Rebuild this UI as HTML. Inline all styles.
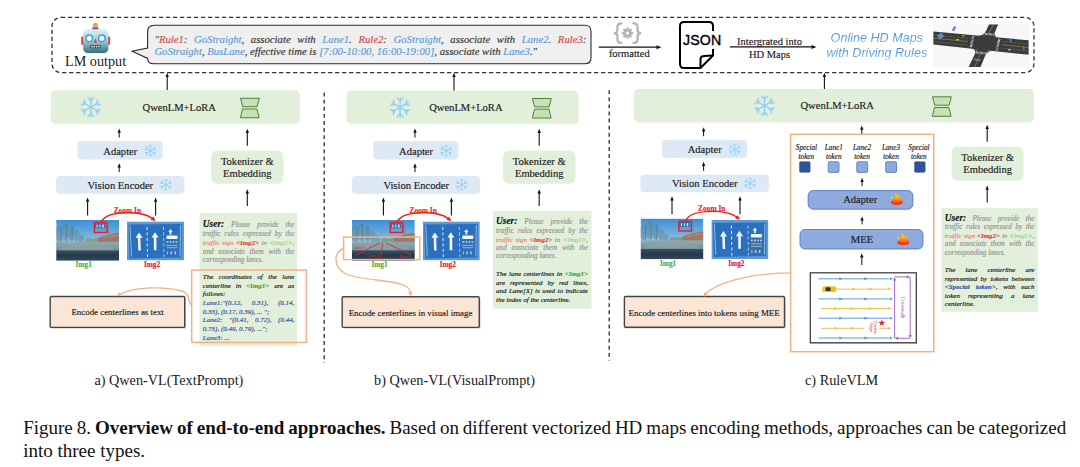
<!DOCTYPE html>
<html><head><meta charset="utf-8">
<style>
*{margin:0;padding:0;box-sizing:border-box}
html,body{width:1080px;height:467px;background:#fff;overflow:hidden}
body{position:relative;font-family:"Liberation Serif",serif;color:#1a1a1a}
svg.bg{position:absolute;left:0;top:0}
.t{position:absolute;white-space:nowrap;line-height:1}
.sm{-webkit-text-stroke:0.15px currentColor}
.jf{display:flex;justify-content:space-between;align-items:baseline}
.jf>span{white-space:nowrap}
.ser{font-family:"Liberation Serif",serif}
.sans{font-family:"Liberation Sans",sans-serif}
i{font-style:italic}
</style></head><body>
<svg class="bg" width="1080" height="467" viewBox="0 0 1080 467">
<defs>
 <symbol id="snow" viewBox="-10 -10 20 20" overflow="visible">
  <g stroke="#92cff5" stroke-width="1.35" stroke-linecap="round" stroke-linejoin="round" fill="none">
   <g id="arm"><line x1="0" y1="0" x2="0" y2="-9.6"/><polyline points="-3,-9.4 0,-6.4 3,-9.4"/></g>
   <use href="#arm" transform="rotate(60)"/><use href="#arm" transform="rotate(120)"/><use href="#arm" transform="rotate(180)"/><use href="#arm" transform="rotate(240)"/><use href="#arm" transform="rotate(300)"/>
  </g>
 </symbol>
 <symbol id="lora" viewBox="0 0 20 21" overflow="visible">
  <g fill="#c5e2b4" stroke="#4e7f3a" stroke-width="1" stroke-linejoin="round">
   <path d="M0.4,0.6 L19.4,0.6 L17.2,9.1 L2.6,9.1 Z"/>
   <path d="M2.4,11.4 L17,11.4 L19.2,20.3 L0.3,20.3 Z"/>
  </g>
 </symbol>
 <linearGradient id="fireg" x1="0" y1="0" x2="0" y2="1"><stop offset="0" stop-color="#ffd60a"/><stop offset="0.45" stop-color="#ffb000"/><stop offset="0.75" stop-color="#ff6a10"/><stop offset="1" stop-color="#f02a14"/></linearGradient>
 <symbol id="fire" viewBox="0 0 12 12" overflow="visible">
  <ellipse cx="6.1" cy="9.1" rx="5.8" ry="2.5" fill="#f2361a"/>
  <path d="M1.8,9.2 C1.4,6.8 3.2,5.6 4.2,4 C4.9,2.8 4.5,1 4.7,0 C6.6,1.3 7.4,3 7.6,4.4 C8.4,4 8.8,3.4 8.9,2.8 C10.6,4.4 11.2,6.6 10.4,9.2 C9.2,10.6 3,10.6 1.8,9.2 Z" fill="url(#fireg)"/>
  <ellipse cx="1.4" cy="4.6" rx="0.9" ry="1.2" fill="#ffd020"/>
 </symbol>
 <linearGradient id="robg" x1="0" y1="0" x2="0" y2="1"><stop offset="0" stop-color="#dcf0f2"/><stop offset="0.45" stop-color="#a9d3d8"/><stop offset="1" stop-color="#2f6f7f"/></linearGradient>
 <linearGradient id="skyg" x1="0" y1="0" x2="0" y2="1"><stop offset="0" stop-color="#3d8ed4"/><stop offset="0.55" stop-color="#8fc0de"/><stop offset="1" stop-color="#b9d3dc"/></linearGradient>
 <linearGradient id="roadg" x1="0" y1="0" x2="0" y2="1"><stop offset="0" stop-color="#90aab0"/><stop offset="1" stop-color="#6f9096"/></linearGradient>
 <linearGradient id="dashg" x1="0" y1="0" x2="0" y2="1"><stop offset="0" stop-color="#3c5266"/><stop offset="0.5" stop-color="#26384a"/><stop offset="1" stop-color="#34495c"/></linearGradient>
 <linearGradient id="hdg" x1="0" y1="0" x2="0" y2="1"><stop offset="0" stop-color="#4a8fd6"/><stop offset="0.6" stop-color="#6aa6de"/><stop offset="1" stop-color="#b8d6f0"/></linearGradient>
 <symbol id="img1" viewBox="0 0 63 41" preserveAspectRatio="none">
  <rect x="0" y="0" width="63" height="41" fill="url(#skyg)"/>
  <g fill="#5a8690" opacity="0.45"><ellipse cx="3" cy="14" rx="4" ry="8"/><ellipse cx="9" cy="12" rx="3.5" ry="9"/><ellipse cx="15" cy="13" rx="3.5" ry="8"/><ellipse cx="20.5" cy="16" rx="3" ry="6"/><ellipse cx="25" cy="19" rx="3" ry="4"/></g>
  <g stroke="#3f5f66" stroke-width="0.5" opacity="0.7"><line x1="5" y1="6" x2="5" y2="24"/><line x1="10.5" y1="4" x2="10.5" y2="24"/><line x1="16" y1="6" x2="16" y2="24"/></g>
  <g fill="#7a9a78" opacity="0.8"><ellipse cx="33" cy="21" rx="4" ry="2.5"/><ellipse cx="40" cy="20.5" rx="3" ry="2"/></g>
  <path d="M42,18 L48,16 L54,14.5 L60,13 L63,13 L63,23 L42,23 Z" fill="#a56a52" opacity="0.85"/>
  <path d="M47,17 L63,14.5 L63,16 L47,18.5 Z" fill="#c99070" opacity="0.7"/>
  <line x1="52.5" y1="6" x2="52.5" y2="23" stroke="#6f7f86" stroke-width="0.6"/>
  <rect x="0" y="22" width="63" height="9" fill="url(#roadg)"/>
  <path d="M22,22 L40,22 L63,31 L0,31 Z" fill="#8fa5a8" opacity="0.6"/>
  <rect x="0" y="30.5" width="63" height="10.5" fill="url(#dashg)"/>
  <rect x="38.8" y="3.4" width="10.4" height="6.6" fill="#2d6cb8"/>
  <g fill="#e8f0f8"><rect x="40.5" y="4.6" width="1" height="3"/><rect x="43.5" y="4.6" width="1" height="3"/><rect x="46.3" y="4.6" width="1.4" height="3"/></g>
  <rect x="38.8" y="8.6" width="10.4" height="1.2" fill="#7fb0e0"/>
 </symbol>
 <symbol id="img2" viewBox="0 0 57 39" preserveAspectRatio="none">
  <rect x="0" y="0" width="57" height="39" fill="#5e9ad4"/>
  <path d="M1.5,3 L55,2.5 L54.5,36 L2.5,37 Z" fill="#2b6fbf"/>
  <path d="M3,4 L4.5,35" stroke="#a9c8e8" stroke-width="0.8"/>
  <path d="M53.5,3.5 L53,35" stroke="#a9c8e8" stroke-width="0.8"/>
  <g fill="#f2f6fa">
   <path d="M12,11 L15.6,16.4 L13.4,16.4 L13.8,29 L11.2,29 L10.9,16.4 L8.6,16.4 Z"/>
   <path d="M28,10.8 L31.6,16.2 L29.4,16.2 L29.5,28.8 L26.9,28.8 L26.8,16.2 L24.6,16.2 Z"/>
   <path d="M43.5,7.5 L45.7,10.5 L44.4,10.5 L44.4,13 L42.6,13 L42.6,10.5 L41.3,10.5 Z"/>
   <rect x="39.5" y="14" width="11" height="3.6" rx="0.6"/>
  </g>
  <g fill="#e8eef5"><rect x="19.5" y="5.5" width="1" height="3"/><rect x="19.6" y="11" width="1" height="3"/><rect x="19.7" y="16.5" width="1" height="3"/><rect x="19.8" y="22" width="1" height="3"/><rect x="19.9" y="27.5" width="1" height="3"/><rect x="20" y="33" width="1" height="2.5"/></g>
  <g fill="#d8c89a"><rect x="36" y="5.5" width="1" height="3"/><rect x="36.1" y="11" width="1" height="3"/><rect x="36.2" y="16.5" width="1" height="3"/><rect x="36.3" y="22" width="1" height="3"/><rect x="36.4" y="27.5" width="1" height="3"/><rect x="36.5" y="33" width="1" height="2.5"/></g>
  <g fill="#e0cfa0" opacity="0.9"><circle cx="40.5" cy="20.5" r="1"/><circle cx="43.5" cy="20.5" r="1"/><circle cx="46.5" cy="20.5" r="1"/><circle cx="49.5" cy="20.5" r="1"/>
   <rect x="39.5" y="23.5" width="11" height="0.8"/><rect x="39.5" y="26" width="11" height="0.8"/>
   <rect x="40" y="30" width="1" height="3"/><rect x="43.5" y="30" width="1.5" height="3"/><rect x="47.5" y="30" width="1.5" height="3"/></g>
 </symbol>
</defs>
<rect x="52" y="17.4" width="982" height="55.2" rx="9" fill="none" stroke="#333" stroke-width="1.3" stroke-dasharray="4.2 2.8"/>
<g>
 <rect x="81.2" y="36.6" width="2.6" height="8.2" rx="1" fill="#d5453e"/>
 <rect x="107.6" y="36.6" width="2.6" height="8.2" rx="1" fill="#d5453e"/>
 <path d="M92.2,27.6 Q95.4,26.2 98.6,27.6 L98.2,30 L92.6,30 Z" fill="#6b4a9a"/>
 <circle cx="95.4" cy="25.2" r="2.5" fill="#f5a623"/>
 <rect x="83.2" y="29.2" width="25.2" height="23.9" rx="4.5" fill="url(#robg)"/>
 <circle cx="89.2" cy="38.2" r="3.3" fill="#fff" stroke="#2aa6e2" stroke-width="1.5"/>
 <circle cx="101.8" cy="38.2" r="3.3" fill="#fff" stroke="#2aa6e2" stroke-width="1.5"/>
 <path d="M95.4,38.2 L97.2,42.8 L93.6,42.8 Z" fill="#d94040"/>
 <rect x="90" y="45.2" width="10.8" height="3" rx="1.2" fill="#2a3a44"/>
 <g fill="#e8e8e8"><rect x="91" y="45.9" width="1.6" height="1.6"/><rect x="93.4" y="45.9" width="1.6" height="1.6"/><rect x="95.8" y="45.9" width="1.6" height="1.6"/><rect x="98.2" y="45.9" width="1.6" height="1.6"/></g>
</g>
<path d="M154.2,25.3 L585,25.3 Q591,25.3 591,31.3 L591,57.8 Q591,63.8 585,63.8 L154.2,63.8 Q147.6,63.8 147.6,58.4 L132.2,51.3 L147.6,48 L147.6,31.9 Q147.6,25.3 154.2,25.3 Z" fill="#efefef" stroke="#2a2a2a" stroke-width="1.1" stroke-linejoin="miter"/>
<g fill="none" stroke="#b4b4b4" stroke-width="2.2" stroke-linecap="round" stroke-linejoin="round">
 <path d="M621.6,23.4 Q617.4,23.4 617.4,27 L617.4,30.2 Q617.4,32.6 614.6,33.1 Q617.4,33.6 617.4,36 L617.4,39.4 Q617.4,42.8 621.6,42.8"/>
 <path d="M633.4,23.4 Q637.6,23.4 637.6,27 L637.6,30.2 Q637.6,32.6 640.4,33.1 Q637.6,33.6 637.6,36 L637.6,39.4 Q637.6,42.8 633.4,42.8"/>
</g>
<g fill="#b4b4b4"><circle cx="627.5" cy="33.1" r="4"/><rect x="626.3" y="27.5" width="2.4" height="3" transform="rotate(0 627.5 33.1)"/><rect x="626.3" y="27.5" width="2.4" height="3" transform="rotate(45 627.5 33.1)"/><rect x="626.3" y="27.5" width="2.4" height="3" transform="rotate(90 627.5 33.1)"/><rect x="626.3" y="27.5" width="2.4" height="3" transform="rotate(135 627.5 33.1)"/><rect x="626.3" y="27.5" width="2.4" height="3" transform="rotate(180 627.5 33.1)"/><rect x="626.3" y="27.5" width="2.4" height="3" transform="rotate(225 627.5 33.1)"/><rect x="626.3" y="27.5" width="2.4" height="3" transform="rotate(270 627.5 33.1)"/><rect x="626.3" y="27.5" width="2.4" height="3" transform="rotate(315 627.5 33.1)"/><circle cx="627.5" cy="33.1" r="1.7" fill="#fff"/></g>
<line x1="598.80" y1="47.20" x2="657.00" y2="47.20" stroke="#111" stroke-width="1.2"/>
<polygon points="661.50,47.20 656.50,49.20 656.50,45.20" fill="#111"/>
<path d="M713,31 L713,26 Q713,22 709,22 L684,22 Q680,22 680,26 L680,64 Q680,68 684,68 L700.5,68 L713,55.5 L713,49" fill="none" stroke="#000" stroke-width="2" stroke-linejoin="round"/>
<path d="M700.5,68 L700.5,59.5 Q700.5,56 704,56 L713,55.5" fill="none" stroke="#000" stroke-width="2" stroke-linejoin="round"/>
<line x1="730.00" y1="46.90" x2="812.00" y2="46.90" stroke="#111" stroke-width="1.2"/>
<polygon points="816.50,46.90 811.50,48.90 811.50,44.90" fill="#111"/>
<g>
 <rect x="933" y="24" width="96" height="43.5" fill="#f7f7f7"/>
 <path d="M933.4,31.6 L1028.6,40.3 L1028.6,54.8 L933.4,44.6 Z" fill="#3b3b3b"/>
 <path d="M989,24.5 L998.1,24.5 L980.5,67.1 L968.7,67.1 Z" fill="#3b3b3b"/>
 <g fill="#3b3b3b">
  <path d="M977.4,35.62 Q983.4,36.17 986,30.75 L983.4,36.17 Z"/>
  <path d="M998.9,37.59 Q992.9,37.04 995.2,31.5 L992.9,37.04 Z"/>
  <path d="M971.2,48.65 Q977.2,49.29 974.6,54.7 L977.2,49.29 Z"/>
  <path d="M993.4,51.02 Q987.4,50.38 985.1,55.9 L987.4,50.38 Z"/>
 </g>
 <g stroke="#8a8a8a" stroke-width="0.4" opacity="0.8"><line x1="933.4" y1="35" x2="968" y2="38.3"/><line x1="933.4" y1="41.5" x2="968" y2="45"/><line x1="1002" y1="41.5" x2="1028.6" y2="44.3"/><line x1="1002" y1="48" x2="1028.6" y2="51"/></g>
 <g stroke="#c9a92a" stroke-width="0.5"><line x1="933.4" y1="38.1" x2="968" y2="41.5"/><line x1="1002" y1="44.7" x2="1028.6" y2="47.5"/><line x1="993.5" y1="24.5" x2="988.6" y2="33.5"/><line x1="980.2" y1="54" x2="974.6" y2="67.1"/></g>
 <g stroke="#e6e6e6" stroke-width="2.2" stroke-dasharray="0.6 0.7"><line x1="985" y1="33.9" x2="994.2" y2="34.5"/><line x1="976" y1="52.4" x2="986.2" y2="53.4"/></g>
 <g stroke="#e6e6e6" stroke-width="2.4" stroke-dasharray="0.6 0.7"><line x1="973.3" y1="36.2" x2="970.7" y2="47.6"/><line x1="999.3" y1="38.8" x2="996.7" y2="50.4"/></g>
 <g fill="#d9a53a"><rect x="956" y="39" width="3" height="1.4"/><rect x="1008" y="49" width="3" height="1.4"/><rect x="962" y="35.2" width="2.4" height="1.2"/></g>
 <rect x="1023" y="46" width="1.5" height="4" fill="#d04a4a"/>
 <path d="M937,35.5 L941.5,32.5 L944,36.6 L939.6,39.4 Z" fill="#5b86d4"/>
 <path d="M951.8,30.2 L954.2,26 L956.2,27.2 L953.9,31.4 Z" fill="#5b86d4"/>
 <path d="M974.6,58.6 L980.6,59.6 L980.2,61.2 L974.2,60.2 Z" fill="#5b86d4"/>
 <path d="M1009.6,38.6 L1011,38 L1011.6,41.6 L1010.2,42.2 Z" fill="#5b86d4"/>
</g>
<line x1="324.2" y1="92.6" x2="324.2" y2="363" stroke="#3a3a3a" stroke-width="1.4" stroke-dasharray="3.9 3.2"/>
<line x1="609.2" y1="90.2" x2="609.2" y2="360.5" stroke="#3a3a3a" stroke-width="1.4" stroke-dasharray="3.9 3.2"/>
<rect x="50.8" y="90" width="249.2" height="34.3" rx="5" fill="#e2efda"/>
<use href="#snow" x="81" y="97.25" width="19.8" height="19.8"/>
<use href="#lora" x="240" y="97.65" width="20" height="20.8"/>
<line x1="167.20" y1="90.00" x2="167.20" y2="76.50" stroke="#111" stroke-width="1.1"/>
<polygon points="167.20,72.80 168.90,77.00 165.50,77.00" fill="#111"/>
<rect x="77.4" y="141.1" width="85.3" height="18.4" rx="4" fill="#dde9f5"/>
<use href="#snow" x="144.6" y="145.1" width="11.6" height="11.6"/>
<rect x="56" y="175.9" width="128.4" height="17.8" rx="4" fill="#dde9f5"/>
<use href="#snow" x="160" y="179" width="11.6" height="11.6"/>
<line x1="119.20" y1="137.60" x2="119.20" y2="132.30" stroke="#111" stroke-width="1"/>
<polygon points="119.20,128.60 120.90,132.80 117.50,132.80" fill="#111"/>
<line x1="119.20" y1="172.20" x2="119.20" y2="166.90" stroke="#111" stroke-width="1"/>
<polygon points="119.20,163.20 120.90,167.40 117.50,167.40" fill="#111"/>
<line x1="87.60" y1="215.60" x2="87.60" y2="201.30" stroke="#111" stroke-width="1.1"/>
<polygon points="87.60,197.60 89.30,201.80 85.90,201.80" fill="#111"/>
<line x1="155.60" y1="215.60" x2="155.60" y2="201.30" stroke="#111" stroke-width="1.1"/>
<polygon points="155.60,197.60 157.30,201.80 153.90,201.80" fill="#111"/>
<use href="#img1" x="56.2" y="220" width="62.8" height="40.7"/>
<use href="#img2" x="127" y="221.4" width="57" height="39"/>
<rect x="94.4" y="222.6" width="12.6" height="9.8" fill="none" stroke="#e32020" stroke-width="1.4"/>
<path d="M101.1,222.4 C104,215 115,212.8 128.3,212.8 C140,212.8 148.5,215.5 152.6,218.6" fill="none" stroke="#ee1c1c" stroke-width="1.4"/>
<polygon points="155.4,221.2 150.6,219.8 153.6,216.4" fill="#ee1c1c"/>
<rect x="211.2" y="150.6" width="72.19999999999999" height="33.20000000000002" rx="6" fill="#e2efda"/>
<line x1="247.30" y1="145.80" x2="247.30" y2="132.50" stroke="#111" stroke-width="1.1"/>
<polygon points="247.30,128.80 249.00,133.00 245.60,133.00" fill="#111"/>
<line x1="247.30" y1="206.00" x2="247.30" y2="193.00" stroke="#111" stroke-width="1.1"/>
<polygon points="247.30,189.30 249.00,193.50 245.60,193.50" fill="#111"/>
<rect x="199.5" y="213" width="97.5" height="133" fill="#e2efda"/>
<rect x="191.7" y="270.1" width="114.6" height="72.3" fill="none" stroke="#f4b183" stroke-width="1.5"/>
<rect x="51.400000000000006" y="297.7" width="134.5" height="30.899999999999977" fill="#9a9a9a" opacity="0.5"/>
<rect x="50.2" y="296.5" width="134.5" height="30.899999999999977" rx="1.2" fill="#fbe5d6" stroke="#444" stroke-width="1.4"/>
<path d="M191.7,306 C188,302 190,293 182,291 C165,286.5 135,286 119.5,294.5" fill="none" stroke="#f4b183" stroke-width="1.3"/>
<polygon points="117.6,296.6 118.4,292.2 121.8,294.6" fill="#f4b183"/>
<rect x="346.4" y="90.5" width="232.20000000000005" height="33.8" rx="5" fill="#e2efda"/>
<use href="#snow" x="390.2" y="97.50" width="19.8" height="19.8"/>
<use href="#lora" x="532" y="97.90" width="20" height="20.8"/>
<line x1="454.00" y1="90.50" x2="454.00" y2="76.50" stroke="#111" stroke-width="1.1"/>
<polygon points="454.00,72.80 455.70,77.00 452.30,77.00" fill="#111"/>
<rect x="373.20000000000005" y="141.1" width="85.3" height="18.4" rx="4" fill="#dde9f5"/>
<use href="#snow" x="440.4" y="145.1" width="11.6" height="11.6"/>
<rect x="351.8" y="175.9" width="128.4" height="17.8" rx="4" fill="#dde9f5"/>
<use href="#snow" x="455.8" y="179" width="11.6" height="11.6"/>
<line x1="415.00" y1="137.60" x2="415.00" y2="132.30" stroke="#111" stroke-width="1"/>
<polygon points="415.00,128.60 416.70,132.80 413.30,132.80" fill="#111"/>
<line x1="415.00" y1="172.20" x2="415.00" y2="166.90" stroke="#111" stroke-width="1"/>
<polygon points="415.00,163.20 416.70,167.40 413.30,167.40" fill="#111"/>
<line x1="383.40" y1="215.60" x2="383.40" y2="201.30" stroke="#111" stroke-width="1.1"/>
<polygon points="383.40,197.60 385.10,201.80 381.70,201.80" fill="#111"/>
<line x1="451.40" y1="215.60" x2="451.40" y2="201.30" stroke="#111" stroke-width="1.1"/>
<polygon points="451.40,197.60 453.10,201.80 449.70,201.80" fill="#111"/>
<use href="#img1" x="352.0" y="220" width="62.8" height="40.7"/>
<use href="#img2" x="422.8" y="221.4" width="57" height="39"/>
<rect x="390.20000000000005" y="222.6" width="12.6" height="9.8" fill="none" stroke="#e32020" stroke-width="1.4"/>
<path d="M396.9,222.4 C399.8,215 410.8,212.8 424.1,212.8 C435.8,212.8 444.3,215.5 448.4,218.6" fill="none" stroke="#ee1c1c" stroke-width="1.4"/>
<polygon points="451.20000000000005,221.2 446.4,219.8 449.4,216.4" fill="#ee1c1c"/>
<rect x="503.1" y="150.6" width="72.29999999999995" height="33.20000000000002" rx="6" fill="#e2efda"/>
<line x1="539.20" y1="145.80" x2="539.20" y2="132.50" stroke="#111" stroke-width="1.1"/>
<polygon points="539.20,128.80 540.90,133.00 537.50,133.00" fill="#111"/>
<line x1="539.20" y1="206.00" x2="539.20" y2="193.00" stroke="#111" stroke-width="1.1"/>
<polygon points="539.20,189.30 540.90,193.50 537.50,193.50" fill="#111"/>
<rect x="492.8" y="210.9" width="98.7" height="97.8" fill="#e2efda"/>
<g stroke="#e82020" stroke-width="0.85" fill="none"><line x1="380.3" y1="242.6" x2="355.2" y2="255.4"/><line x1="382.8" y1="243" x2="380.7" y2="257.2"/><line x1="386" y1="243" x2="410.7" y2="254.6"/></g>
<g fill="#e82020" font-family="Liberation Serif" font-size="4.3"><text x="355" y="249.3">Lane1</text><text x="368.4" y="257.2">Lane2</text><text x="399.4" y="257.5">Lane3</text></g>
<rect x="343.6" y="237.1" width="76.2" height="22.5" fill="none" stroke="#f4b183" stroke-width="1.5"/>
<rect x="343.4" y="298.0" width="137.10000000000002" height="30.599999999999966" fill="#9a9a9a" opacity="0.5"/>
<rect x="342.2" y="296.8" width="137.10000000000002" height="30.599999999999966" rx="1.2" fill="#fbe5d6" stroke="#444" stroke-width="1.4"/>
<path d="M343.4,248.6 C334,252 332.5,266 345,273.5 C362,281 392,279.5 405,285.5 C409,288 410.4,290.5 410.6,293" fill="none" stroke="#f4b183" stroke-width="1.3"/>
<polygon points="410.4,296.4 408.2,292.2 412.6,292.2" fill="#f4b183"/>
<rect x="633.7" y="89" width="400.29999999999995" height="33.400000000000006" rx="5" fill="#e2efda"/>
<use href="#snow" x="754.6" y="95.80" width="19.8" height="19.8"/>
<use href="#lora" x="932" y="96.20" width="20" height="20.8"/>
<line x1="824.40" y1="89.00" x2="824.40" y2="76.50" stroke="#111" stroke-width="1.1"/>
<polygon points="824.40,72.80 826.10,77.00 822.70,77.00" fill="#111"/>
<rect x="661.8" y="139.7" width="85.3" height="18.4" rx="4" fill="#dde9f5"/>
<use href="#snow" x="729.0" y="143.7" width="11.6" height="11.6"/>
<rect x="640.4" y="174.5" width="128.4" height="17.8" rx="4" fill="#dde9f5"/>
<use href="#snow" x="744.4" y="177.6" width="11.6" height="11.6"/>
<line x1="703.60" y1="136.20" x2="703.60" y2="130.90" stroke="#111" stroke-width="1"/>
<polygon points="703.60,127.20 705.30,131.40 701.90,131.40" fill="#111"/>
<line x1="703.60" y1="170.80" x2="703.60" y2="165.50" stroke="#111" stroke-width="1"/>
<polygon points="703.60,161.80 705.30,166.00 701.90,166.00" fill="#111"/>
<line x1="672.00" y1="214.20" x2="672.00" y2="199.90" stroke="#111" stroke-width="1.1"/>
<polygon points="672.00,196.20 673.70,200.40 670.30,200.40" fill="#111"/>
<line x1="740.00" y1="214.20" x2="740.00" y2="199.90" stroke="#111" stroke-width="1.1"/>
<polygon points="740.00,196.20 741.70,200.40 738.30,200.40" fill="#111"/>
<use href="#img1" x="640.6" y="218.6" width="62.8" height="40.7"/>
<use href="#img2" x="711.4" y="220.0" width="57" height="39"/>
<rect x="678.8" y="221.2" width="12.6" height="9.8" fill="none" stroke="#e32020" stroke-width="1.4"/>
<path d="M685.5,221.0 C688.4,213.6 699.4,211.4 712.7,211.4 C724.4,211.4 732.9,214.1 737.0,217.2" fill="none" stroke="#ee1c1c" stroke-width="1.4"/>
<polygon points="739.8,219.79999999999998 735.0,218.4 738.0,215.0" fill="#ee1c1c"/>
<rect x="951.7" y="146.7" width="71.89999999999998" height="34.0" rx="6" fill="#e2efda"/>
<line x1="987.20" y1="141.80" x2="987.20" y2="128.50" stroke="#111" stroke-width="1.1"/>
<polygon points="987.20,124.80 988.90,129.00 985.50,129.00" fill="#111"/>
<line x1="987.20" y1="202.60" x2="987.20" y2="189.30" stroke="#111" stroke-width="1.1"/>
<polygon points="987.20,185.60 988.90,189.80 985.50,189.80" fill="#111"/>
<line x1="861.80" y1="134.30" x2="861.80" y2="129.30" stroke="#111" stroke-width="1"/>
<polygon points="861.80,125.60 863.50,129.80 860.10,129.80" fill="#111"/>
<rect x="941.3" y="208.2" width="96.5" height="103.6" fill="#e2efda"/>
<rect x="790.6" y="134.3" width="143.2" height="217.4" fill="none" stroke="#f4b183" stroke-width="1.5"/>
<rect x="799.60" y="161.8" width="10.5" height="10.4" rx="1" fill="#2f5597" stroke="#2b4d8a" stroke-width="0.6"/>
<rect x="828.20" y="161.8" width="10.8" height="10.6" rx="1.2" fill="#8eaadc" stroke="#5580cc" stroke-width="0.9"/>
<rect x="856.80" y="161.8" width="10.8" height="10.6" rx="1.2" fill="#8eaadc" stroke="#5580cc" stroke-width="0.9"/>
<rect x="885.70" y="161.8" width="10.8" height="10.6" rx="1.2" fill="#8eaadc" stroke="#5580cc" stroke-width="0.9"/>
<rect x="914.60" y="161.8" width="10.5" height="10.4" rx="1" fill="#2f5597" stroke="#2b4d8a" stroke-width="0.6"/>
<line x1="862.10" y1="186.20" x2="862.10" y2="181.50" stroke="#111" stroke-width="1"/>
<polygon points="862.10,177.80 863.80,182.00 860.40,182.00" fill="#111"/>
<rect x="808.1" y="190.6" width="104.8" height="18.6" rx="5" fill="#8faadc" stroke="#4472c4" stroke-width="0.8"/>
<use href="#fire" x="890.6" y="193" width="12.4" height="12.4"/>
<line x1="862.10" y1="224.40" x2="862.10" y2="220.10" stroke="#111" stroke-width="1"/>
<polygon points="862.10,216.40 863.80,220.60 860.40,220.60" fill="#111"/>
<rect x="800" y="229.5" width="123" height="19.5" rx="5" fill="#8faadc" stroke="#4472c4" stroke-width="0.8"/>
<use href="#fire" x="896.8" y="233" width="12.6" height="12.6"/>
<line x1="861.80" y1="265.00" x2="861.80" y2="256.90" stroke="#111" stroke-width="1"/>
<polygon points="861.80,253.20 863.50,257.40 860.10,257.40" fill="#111"/>
<rect x="811" y="273.6" width="106" height="70" fill="#9a9a9a" opacity="0.5"/>
<rect x="810.3" y="272.8" width="106" height="70" fill="#fff" stroke="#333" stroke-width="1.2"/>
<line x1="818.4" y1="278.8" x2="889" y2="278.8" stroke="#4a90e2" stroke-width="0.9"/>
<polygon points="842.4,278.8 839.4,277.3 839.4,280.3" fill="#4a90e2"/>
<polygon points="867.3,278.8 864.3,277.3 864.3,280.3" fill="#4a90e2"/>
<polygon points="892.8,278.8 889.8,277.3 889.8,280.3" fill="#4a90e2"/>
<line x1="836" y1="289.1" x2="888" y2="289.1" stroke="#f5b83d" stroke-width="0.9"/>
<polygon points="855.3,289.1 852.3,287.6 852.3,290.6" fill="#f5b83d"/>
<polygon points="872.4,289.1 869.4,287.6 869.4,290.6" fill="#f5b83d"/>
<polygon points="891.3,289.1 888.3,287.6 888.3,290.6" fill="#f5b83d"/>
<line x1="818.4" y1="298.9" x2="889" y2="298.9" stroke="#4a90e2" stroke-width="0.9"/>
<polygon points="842.4,298.9 839.4,297.4 839.4,300.4" fill="#4a90e2"/>
<polygon points="867.3,298.9 864.3,297.4 864.3,300.4" fill="#4a90e2"/>
<polygon points="892.8,298.9 889.8,297.4 889.8,300.4" fill="#4a90e2"/>
<line x1="821" y1="308.6" x2="888" y2="308.6" stroke="#f5b83d" stroke-width="0.9"/>
<polygon points="837.3,308.6 834.3,307.1 834.3,310.1" fill="#f5b83d"/>
<polygon points="853.5,308.6 850.5,307.1 850.5,310.1" fill="#f5b83d"/>
<polygon points="872.4,308.6 869.4,307.1 869.4,310.1" fill="#f5b83d"/>
<polygon points="891.3,308.6 888.3,307.1 888.3,310.1" fill="#f5b83d"/>
<line x1="818.4" y1="318.2" x2="889" y2="318.2" stroke="#4a90e2" stroke-width="0.9"/>
<polygon points="842.4,318.2 839.4,316.7 839.4,319.7" fill="#4a90e2"/>
<polygon points="867.3,318.2 864.3,316.7 864.3,319.7" fill="#4a90e2"/>
<polygon points="892.8,318.2 889.8,316.7 889.8,319.7" fill="#4a90e2"/>
<line x1="821" y1="328.3" x2="864.5" y2="328.3" stroke="#f5b83d" stroke-width="0.9"/><line x1="879" y1="328.3" x2="888" y2="328.3" stroke="#f5b83d" stroke-width="0.9"/>
<polygon points="837.3,328.3 834.3,326.8 834.3,329.8" fill="#f5b83d"/>
<polygon points="854.4,328.3 851.4,326.8 851.4,329.8" fill="#f5b83d"/>
<polygon points="890.8,328.3 887.8,326.8 887.8,329.8" fill="#f5b83d"/>
<line x1="818.4" y1="338" x2="889" y2="338" stroke="#4a90e2" stroke-width="0.9"/>
<polygon points="842.4,338 839.4,336.5 839.4,339.5" fill="#4a90e2"/>
<polygon points="867.3,338 864.3,336.5 864.3,339.5" fill="#4a90e2"/>
<polygon points="892.8,338 889.8,336.5 889.8,339.5" fill="#4a90e2"/>
<rect x="822.2" y="286.2" width="14.2" height="5.8" rx="2.6" fill="#f0c020"/><rect x="825.6" y="287.2" width="5" height="3.8" rx="0.8" fill="#333"/>
<g stroke="#9b59c6" stroke-width="0.9" fill="none"><line x1="894.6" y1="279" x2="894.6" y2="338.3"/><line x1="894.6" y1="276.9" x2="908" y2="276.9"/><line x1="910.2" y1="276.9" x2="910.2" y2="336"/><line x1="896.6" y1="338.3" x2="910.2" y2="338.3"/></g>
<g fill="#9b59c6"><polygon points="910.2,276.9 906.8,275.4 906.8,278.4"/><polygon points="894.6,277.2 893.1,280.4 896.1,280.4"/><polygon points="894.6,338.3 898,336.8 898,339.8"/><polygon points="910.2,338.3 908.7,335 911.7,335"/></g>
<text x="0" y="0" font-family="Liberation Serif" font-size="5.2" fill="#9b59c6" transform="translate(900.6,296.6) rotate(90)">Crosswalk</text>
<polygon points="881.8,319.4 882.7,321.8 885.2,321.9 883.2,323.4 883.9,325.8 881.8,324.4 879.7,325.8 880.4,323.4 878.4,321.9 880.9,321.8" fill="#e82020"/>
<text font-family="Liberation Serif" font-size="5" fill="#e82020" transform="translate(874.2,320.5) rotate(90)"><tspan x="0" y="0">Traffic</tspan><tspan x="2.5" y="4.7">Sign</tspan></text>
<rect x="625.6" y="297.7" width="160.10000000000002" height="30.80000000000001" fill="#9a9a9a" opacity="0.5"/>
<rect x="624.4" y="296.5" width="160.10000000000002" height="30.80000000000001" rx="1.2" fill="#fbe5d6" stroke="#444" stroke-width="1.4"/>
<path d="M790.6,272.8 C760,273 720,280 705.5,294" fill="none" stroke="#f4b183" stroke-width="1.3"/>
<polygon points="703.8,296.8 703.9,292.2 707.6,294.6" fill="#f4b183"/>
</svg>
<div class="t ser sm" style="top:102.56px;font-size:10.55px;left:142.60px;">QwenLM+LoRA</div>
<div class="t ser sm" style="top:146.56px;font-size:10.55px;left:103.30px;">Adapter</div>
<div class="t ser sm" style="top:180.72px;font-size:10.6px;left:87.60px;">Vision Encoder</div>
<div class="t ser sm" style="top:206.60px;font-size:7.4px;left:113.70px;color:#f01c1c;font-weight:bold">Zoom In</div>
<div class="t ser sm" style="top:261.49px;font-size:7.3px;left:-216.30px;width:600px;text-align:center;color:#5aa83a;font-weight:bold">Img1</div>
<div class="t ser sm" style="top:261.49px;font-size:7.3px;left:-148.00px;width:600px;text-align:center;color:#f01818;font-weight:bold">Img2</div>
<div class="t ser sm" style="top:156.76px;font-size:10.55px;left:-52.70px;width:600px;text-align:center;">Tokenizer &amp;</div>
<div class="t ser sm" style="top:169.16px;font-size:10.55px;left:-52.70px;width:600px;text-align:center;">Embedding</div>
<div class="t ser sm" style="top:308.45px;font-size:8.9px;left:71.40px;">Encode centerlines as text</div>
<div class="t ser" style="top:373.17px;font-size:14.25px;left:94.40px;">a) Qwen-VL(TextPrompt)</div>
<div class="t ser sm" style="top:102.56px;font-size:10.55px;left:429.20px;">QwenLM+LoRA</div>
<div class="t ser sm" style="top:146.56px;font-size:10.55px;left:399.10px;">Adapter</div>
<div class="t ser sm" style="top:180.72px;font-size:10.6px;left:383.40px;">Vision Encoder</div>
<div class="t ser sm" style="top:206.60px;font-size:7.4px;left:409.50px;color:#f01c1c;font-weight:bold">Zoom In</div>
<div class="t ser sm" style="top:261.49px;font-size:7.3px;left:79.50px;width:600px;text-align:center;color:#5aa83a;font-weight:bold">Img1</div>
<div class="t ser sm" style="top:261.49px;font-size:7.3px;left:147.80px;width:600px;text-align:center;color:#f01818;font-weight:bold">Img2</div>
<div class="t ser sm" style="top:156.76px;font-size:10.55px;left:239.25px;width:600px;text-align:center;">Tokenizer &amp;</div>
<div class="t ser sm" style="top:169.16px;font-size:10.55px;left:239.25px;width:600px;text-align:center;">Embedding</div>
<div class="t ser sm" style="top:309.15px;font-size:8.9px;left:348.70px;">Encode centerlines in visual image</div>
<div class="t ser" style="top:372.67px;font-size:14.25px;left:374.00px;">b) Qwen-VL(VisualPrompt)</div>
<div class="t ser sm" style="top:101.06px;font-size:10.55px;left:800.50px;">QwenLM+LoRA</div>
<div class="t ser sm" style="top:145.16px;font-size:10.55px;left:687.70px;">Adapter</div>
<div class="t ser sm" style="top:179.32px;font-size:10.6px;left:672.00px;">Vision Encoder</div>
<div class="t ser sm" style="top:205.20px;font-size:7.4px;left:698.10px;color:#f01c1c;font-weight:bold">Zoom In</div>
<div class="t ser sm" style="top:260.09px;font-size:7.3px;left:368.10px;width:600px;text-align:center;color:#5aa83a;font-weight:bold">Img1</div>
<div class="t ser sm" style="top:260.09px;font-size:7.3px;left:436.40px;width:600px;text-align:center;color:#f01818;font-weight:bold">Img2</div>
<div class="t ser sm" style="top:152.86px;font-size:10.55px;left:687.65px;width:600px;text-align:center;">Tokenizer &amp;</div>
<div class="t ser sm" style="top:165.26px;font-size:10.55px;left:687.65px;width:600px;text-align:center;">Embedding</div>
<div class="t ser sm" style="top:145.37px;font-size:7.2px;left:506.40px;width:600px;text-align:center;"><i>Special</i></div>
<div class="t ser sm" style="top:153.57px;font-size:7.2px;left:506.40px;width:600px;text-align:center;"><i>token</i></div>
<div class="t ser sm" style="top:145.37px;font-size:7.2px;left:533.80px;width:600px;text-align:center;"><i>Lane1</i></div>
<div class="t ser sm" style="top:153.57px;font-size:7.2px;left:533.80px;width:600px;text-align:center;"><i>token</i></div>
<div class="t ser sm" style="top:145.37px;font-size:7.2px;left:562.10px;width:600px;text-align:center;"><i>Lane2</i></div>
<div class="t ser sm" style="top:153.57px;font-size:7.2px;left:562.10px;width:600px;text-align:center;"><i>token</i></div>
<div class="t ser sm" style="top:145.37px;font-size:7.2px;left:591.00px;width:600px;text-align:center;"><i>Lane3</i></div>
<div class="t ser sm" style="top:153.57px;font-size:7.2px;left:591.00px;width:600px;text-align:center;"><i>token</i></div>
<div class="t ser sm" style="top:145.37px;font-size:7.2px;left:618.90px;width:600px;text-align:center;"><i>Special</i></div>
<div class="t ser sm" style="top:153.57px;font-size:7.2px;left:618.90px;width:600px;text-align:center;"><i>token</i></div>
<div class="t ser sm" style="top:195.26px;font-size:10.55px;left:843.20px;">Adapter</div>
<div class="t ser sm" style="top:234.82px;font-size:10.6px;left:850.80px;">MEE</div>
<div class="t ser sm" style="top:308.85px;font-size:8.9px;left:628.60px;">Encode centerlines into tokens using MEE</div>
<div class="t ser" style="top:372.67px;font-size:14.25px;left:805.00px;">c) RuleVLM</div>
<div class="t ser" style="top:54.11px;font-size:14.2px;left:65.00px;">LM output</div>
<div class="t ser sm" style="top:48.81px;font-size:10.5px;left:329.30px;width:600px;text-align:center;">formatted</div>
<div class="t sans" style="top:33.18px;font-size:14.2px;left:683.00px;letter-spacing:0.15px;-webkit-text-stroke:0.35px #000;color:#000">JSON</div>
<div class="t ser sm" style="top:37.21px;font-size:10.5px;left:469.50px;width:600px;text-align:center;">Intergrated into</div>
<div class="t ser sm" style="top:49.81px;font-size:10.5px;left:469.50px;width:600px;text-align:center;">HD Maps</div>
<div class="t sans" style="top:32.43px;font-size:12.6px;left:576.80px;width:600px;text-align:center;"><span style="font-style:italic;background:linear-gradient(180deg,#3f86d2 0%,#5c9ddc 55%,#a9cdef 100%);-webkit-background-clip:text;background-clip:text;color:transparent">Online HD Maps</span></div>
<div class="t sans" style="top:46.73px;font-size:12.6px;left:576.80px;width:600px;text-align:center;"><span style="font-style:italic;background:linear-gradient(180deg,#3f86d2 0%,#5c9ddc 55%,#a9cdef 100%);-webkit-background-clip:text;background-clip:text;color:transparent">with Driving Rules</span></div>
<div class="t jf ser sm" style="left:154.40px;top:33.64px;width:432.00px;font-size:10.7px;font-style:italic;color:#333"><span><span style="color:#555">"</span><span style="color:#d04a4a">Rule1</span>:</span><span><span style="color:#5b9bd5">GoStraight</span>,</span><span>associate</span><span>with</span><span><span style="color:#5b9bd5">Lane1</span>.</span><span><span style="color:#d04a4a">Rule2</span>:</span><span><span style="color:#5b9bd5">GoStraight</span>,</span><span>associate</span><span>with</span><span><span style="color:#5b9bd5">Lane2</span>.</span><span><span style="color:#d04a4a">Rule3</span>:</span></div>
<div class="t ser sm" style="left:154.40px;top:46.34px;font-size:10.7px;font-style:italic;color:#333"><span style="color:#5b9bd5">GoStraight</span>, <span style="color:#5b9bd5">BusLane</span>, effective time is <span style="color:#5b9bd5">[7:00-10:00, 16:00-19:00]</span>, associate with <span style="color:#5b9bd5">Lane3</span>."</div>
<div class="t jf ser sm" style="left:202.80px;top:220.47px;width:91.60px;font-size:7.2px;font-style:italic"><span><b style="font-size:9.4px;color:#111">User:</b></span><span><span style="color:#939393">Please</span></span><span><span style="color:#939393">provide</span></span><span><span style="color:#939393">the</span></span></div>
<div class="t jf ser sm" style="left:202.80px;top:231.17px;width:91.60px;font-size:7.2px;font-style:italic"><span><span style="color:#939393">traffic</span></span><span><span style="color:#939393">rules</span></span><span><span style="color:#939393">expressed</span></span><span><span style="color:#939393">by</span></span><span><span style="color:#939393">the</span></span></div>
<div class="t jf ser sm" style="left:202.80px;top:240.12px;width:91.60px;font-size:6.9px;font-style:italic"><span><span style="color:#ee7b7b">traffic</span></span><span><span style="color:#ee7b7b">sign</span></span><span><span style="color:#e03a3a;font-weight:bold">&lt;Img2&gt;</span></span><span><span style="color:#939393">in</span></span><span><span style="color:#9ccf8a">&lt;Img1&gt;</span><span style="color:#939393">,</span></span></div>
<div class="t jf ser sm" style="left:202.80px;top:248.57px;width:91.60px;font-size:7.2px;font-style:italic"><span><span style="color:#939393">and</span></span><span><span style="color:#939393">associate</span></span><span><span style="color:#939393">them</span></span><span><span style="color:#939393">with</span></span><span><span style="color:#939393">the</span></span></div>
<div class="t ser sm" style="left:202.80px;top:257.27px;font-size:7.2px;font-style:italic"><span style="color:#939393">corresponding lanes.</span></div>
<div class="t jf ser sm" style="left:202.80px;top:274.14px;width:91.60px;font-size:7px;font-style:italic;color:#151515;-webkit-text-stroke:0.16px currentColor"><span>The</span><span>coordinates</span><span>of</span><span>the</span><span>lane</span></div>
<div class="t jf ser sm" style="left:202.80px;top:282.78px;width:91.60px;font-size:7px;font-style:italic;color:#151515;-webkit-text-stroke:0.16px currentColor"><span>centerline</span><span>in</span><span><span style="color:#3fa52a;font-weight:bold">&lt;Img1&gt;</span></span><span>are</span><span>as</span></div>
<div class="t ser sm" style="left:202.80px;top:291.42px;font-size:7px;font-style:italic;color:#151515;-webkit-text-stroke:0.16px currentColor">follows:</div>
<div class="t jf ser sm" style="left:202.80px;top:300.06px;width:91.60px;font-size:7px;font-style:italic;color:#151515;-webkit-text-stroke:0.16px currentColor;color:#2f4f9c"><span>Lane1:"(0.12,</span><span>0.31),</span><span>(0.14,</span></div>
<div class="t ser sm" style="left:202.80px;top:308.70px;font-size:7px;font-style:italic;color:#151515;-webkit-text-stroke:0.16px currentColor;color:#2f4f9c">0.33), (0.17, 0.39), ... ";</div>
<div class="t jf ser sm" style="left:202.80px;top:317.34px;width:91.60px;font-size:7px;font-style:italic;color:#151515;-webkit-text-stroke:0.16px currentColor;color:#2f4f9c"><span>Lane2:</span><span>"(0.41,</span><span>0.72),</span><span>(0.44,</span></div>
<div class="t ser sm" style="left:202.80px;top:325.98px;font-size:7px;font-style:italic;color:#151515;-webkit-text-stroke:0.16px currentColor;color:#2f4f9c">0.75), (0.49, 0.79), ...";</div>
<div class="t ser sm" style="left:202.80px;top:334.62px;font-size:7px;font-style:italic;color:#151515;-webkit-text-stroke:0.16px currentColor;color:#2f4f9c">Lane3: ...</div>
<div class="t jf ser sm" style="left:496.00px;top:217.47px;width:92.00px;font-size:7.2px;font-style:italic"><span><b style="font-size:9.4px;color:#111">User:</b></span><span><span style="color:#939393">Please</span></span><span><span style="color:#939393">provide</span></span><span><span style="color:#939393">the</span></span></div>
<div class="t jf ser sm" style="left:496.00px;top:227.90px;width:92.00px;font-size:7.2px;font-style:italic"><span><span style="color:#939393">traffic</span></span><span><span style="color:#939393">rules</span></span><span><span style="color:#939393">expressed</span></span><span><span style="color:#939393">by</span></span><span><span style="color:#939393">the</span></span></div>
<div class="t jf ser sm" style="left:496.00px;top:236.58px;width:92.00px;font-size:6.9px;font-style:italic"><span><span style="color:#ee7b7b">traffic</span></span><span><span style="color:#ee7b7b">sign</span></span><span><span style="color:#e03a3a;font-weight:bold">&lt;Img2&gt;</span></span><span><span style="color:#939393">in</span></span><span><span style="color:#9ccf8a">&lt;Img1&gt;</span><span style="color:#939393">,</span></span></div>
<div class="t jf ser sm" style="left:496.00px;top:244.76px;width:92.00px;font-size:7.2px;font-style:italic"><span><span style="color:#939393">and</span></span><span><span style="color:#939393">associate</span></span><span><span style="color:#939393">them</span></span><span><span style="color:#939393">with</span></span><span><span style="color:#939393">the</span></span></div>
<div class="t ser sm" style="left:496.00px;top:253.19px;font-size:7.2px;font-style:italic"><span style="color:#939393">corresponding lanes.</span></div>
<div class="t jf ser sm" style="left:496.00px;top:271.44px;width:92.00px;font-size:7px;font-style:italic;color:#151515;-webkit-text-stroke:0.16px currentColor"><span>The</span><span>lane</span><span>centerlines</span><span>in</span><span><span style="color:#3fa52a;font-weight:bold">&lt;Img1&gt;</span></span></div>
<div class="t jf ser sm" style="left:496.00px;top:279.94px;width:92.00px;font-size:7px;font-style:italic;color:#151515;-webkit-text-stroke:0.16px currentColor"><span>are</span><span>represented</span><span>by</span><span>red</span><span>lines,</span></div>
<div class="t jf ser sm" style="left:496.00px;top:288.44px;width:92.00px;font-size:7px;font-style:italic;color:#151515;-webkit-text-stroke:0.16px currentColor"><span>and</span><span>Lane[X]</span><span>is</span><span>used</span><span>to</span><span>indicate</span></div>
<div class="t ser sm" style="left:496.00px;top:296.94px;font-size:7px;font-style:italic;color:#151515;-webkit-text-stroke:0.16px currentColor">the index of the centerline.</div>
<div class="t jf ser sm" style="left:944.80px;top:213.67px;width:89.70px;font-size:7.2px;font-style:italic"><span><b style="font-size:9.4px;color:#111">User:</b></span><span><span style="color:#939393">Please</span></span><span><span style="color:#939393">provide</span></span><span><span style="color:#939393">the</span></span></div>
<div class="t jf ser sm" style="left:944.80px;top:224.22px;width:89.70px;font-size:7.2px;font-style:italic"><span><span style="color:#939393">traffic</span></span><span><span style="color:#939393">rules</span></span><span><span style="color:#939393">expressed</span></span><span><span style="color:#939393">by</span></span><span><span style="color:#939393">the</span></span></div>
<div class="t jf ser sm" style="left:944.80px;top:233.02px;width:89.70px;font-size:6.9px;font-style:italic"><span><span style="color:#ee7b7b">traffic</span></span><span><span style="color:#ee7b7b">sign</span></span><span><span style="color:#e03a3a;font-weight:bold">&lt;Img2&gt;</span></span><span><span style="color:#939393">in</span></span><span><span style="color:#9ccf8a">&lt;Img1&gt;</span><span style="color:#939393">,</span></span></div>
<div class="t jf ser sm" style="left:944.80px;top:241.32px;width:89.70px;font-size:7.2px;font-style:italic"><span><span style="color:#939393">and</span></span><span><span style="color:#939393">associate</span></span><span><span style="color:#939393">them</span></span><span><span style="color:#939393">with</span></span><span><span style="color:#939393">the</span></span></div>
<div class="t ser sm" style="left:944.80px;top:249.87px;font-size:7.2px;font-style:italic"><span style="color:#939393">corresponding lanes.</span></div>
<div class="t jf ser sm" style="left:944.80px;top:267.04px;width:89.70px;font-size:7px;font-style:italic;color:#151515;-webkit-text-stroke:0.16px currentColor"><span>The</span><span>lane</span><span>centerline</span><span>are</span></div>
<div class="t jf ser sm" style="left:944.80px;top:275.54px;width:89.70px;font-size:7px;font-style:italic;color:#151515;-webkit-text-stroke:0.16px currentColor"><span>represented</span><span>by</span><span>tokens</span><span>between</span></div>
<div class="t jf ser sm" style="left:944.80px;top:284.04px;width:89.70px;font-size:7px;font-style:italic;color:#151515;-webkit-text-stroke:0.16px currentColor"><span><span style="color:#2f4fb0;font-weight:bold">&lt;Special</span></span><span><span style="color:#2f4fb0;font-weight:bold">token&gt;</span>,</span><span>with</span><span>each</span></div>
<div class="t jf ser sm" style="left:944.80px;top:292.54px;width:89.70px;font-size:7px;font-style:italic;color:#151515;-webkit-text-stroke:0.16px currentColor"><span>token</span><span>representing</span><span>a</span><span>lane</span></div>
<div class="t ser sm" style="left:944.80px;top:301.04px;font-size:7px;font-style:italic;color:#151515;-webkit-text-stroke:0.16px currentColor">centerline.</div>
<div class="t jf ser" style="left:23.20px;top:418.29px;width:1043.00px;font-size:19px;color:#111"><span>Figure</span><span>8.</span><span><b>Overview</b></span><span><b>of</b></span><span><b>end-to-end</b></span><span><b>approaches.</b></span><span>Based</span><span>on</span><span>different</span><span>vectorized</span><span>HD</span><span>maps</span><span>encoding</span><span>methods,</span><span>approaches</span><span>can</span><span>be</span><span>categorized</span></div>
<div class="t ser" style="top:441.49px;font-size:19px;left:23.20px;color:#111">into three types.</div>
</body></html>
